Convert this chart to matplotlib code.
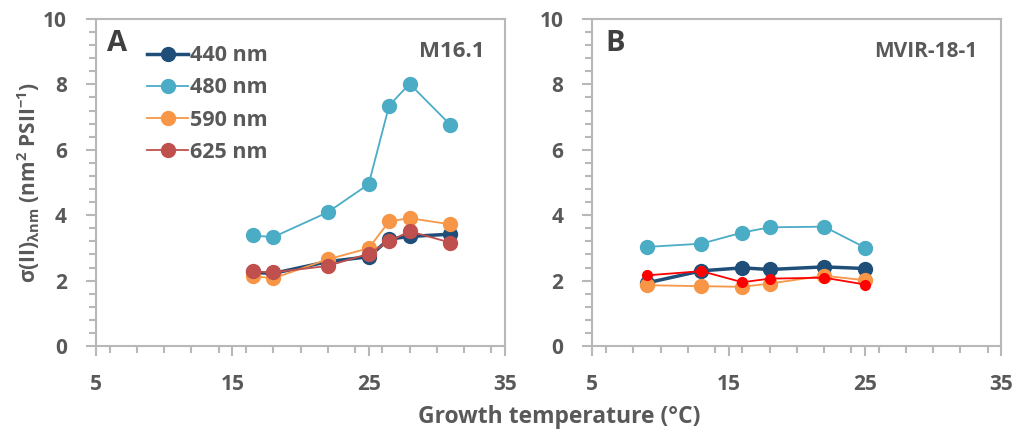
import matplotlib
matplotlib.use('Agg')
import matplotlib.pyplot as plt
from matplotlib.ticker import FixedLocator, MultipleLocator

plt.rcParams['font.family'] = ['Open Sans', 'DejaVu Sans']
plt.rcParams['font.weight'] = 'bold'
plt.rcParams['mathtext.fontset'] = 'custom'
plt.rcParams['mathtext.rm'] = 'Open Sans:bold'
plt.rcParams['mathtext.it'] = 'Open Sans:bold'
plt.rcParams['mathtext.bf'] = 'Open Sans:bold'
plt.rcParams['mathtext.sf'] = 'Open Sans:bold'
plt.rcParams['mathtext.fallback'] = 'stixsans'

# Panel A (M16.1)
temp_a = [16.5, 18, 22, 25, 26.5, 28, 31]
a_440 = [2.25, 2.22, 2.58, 2.73, 3.27, 3.35, 3.42]
a_480 = [3.38, 3.33, 4.09, 4.95, 7.35, 8.02, 6.76]
a_590 = [2.14, 2.07, 2.65, 2.99, 3.81, 3.91, 3.72]
a_625 = [2.28, 2.25, 2.45, 2.82, 3.20, 3.51, 3.16]

# Panel B (MVIR-18-1)
temp_b = [9, 13, 16, 18, 22, 25]
b_440 = [1.93, 2.30, 2.39, 2.34, 2.42, 2.37]
b_480 = [3.03, 3.13, 3.47, 3.63, 3.65, 3.01]
b_590 = [1.86, 1.83, 1.81, 1.91, 2.15, 2.01]
b_625 = [2.16, 2.29, 1.95, 2.06, 2.09, 1.88]

labels = ['440 nm', '480 nm', '590 nm', '625 nm']
x_ticks = [5, 15, 25, 35]

TXT = '#595959'
SPINE = '#b8b8b8'

fig = plt.figure(figsize=(10.19, 4.37), dpi=100)
ax_a = fig.add_axes([0.0942, 0.2082, 0.4014, 0.7483])
ax_b = fig.add_axes([0.5813, 0.2082, 0.4014, 0.7483])


def style_axes(ax):
    ax.set_xlim(5, 35)
    ax.set_ylim(0, 10)
    ax.xaxis.set_major_locator(FixedLocator(x_ticks))
    ax.xaxis.set_minor_locator(MultipleLocator(2))
    ax.yaxis.set_major_locator(MultipleLocator(2))
    ax.yaxis.set_minor_locator(MultipleLocator(0.4))
    for sp in ax.spines.values():
        sp.set_color(SPINE)
        sp.set_linewidth(1.5)
    ax.tick_params(which='both', direction='out', color=SPINE, width=1.5,
                   labelsize=15, labelcolor=TXT)
    ax.tick_params(which='major', length=7)
    ax.tick_params(which='minor', length=5)
    ax.tick_params(axis='x', pad=13)
    ax.tick_params(axis='y', pad=14)
    for lb in ax.get_xticklabels() + ax.get_yticklabels():
        lb.set_fontweight('bold')


# panel A
ax_a.plot(temp_a, a_440, '-o', color='#1f4e79', lw=2.5, ms=10, label=labels[0])
ax_a.plot(temp_a, a_480, '-o', color='#4bacc6', lw=1.3, ms=10, label=labels[1])
ax_a.plot(temp_a, a_590, '-o', color='#f79646', lw=1.3, ms=10, label=labels[2])
ax_a.plot(temp_a, a_625, '-o', color='#c0504d', lw=1.3, ms=10, label=labels[3])
style_axes(ax_a)
ax_a.text(0.027, 0.925, 'A', transform=ax_a.transAxes, fontsize=21,
          fontweight='bold', color='#404040', va='center', ha='left')
ax_a.text(0.951, 0.9, 'M16.1', transform=ax_a.transAxes, fontsize=16,
          fontweight='bold', color=TXT, va='center', ha='right')
leg = ax_a.legend(loc='upper left', bbox_to_anchor=(0.125, 0.92), frameon=False,
                  fontsize=15.5, handlelength=1.9, handletextpad=0.08,
                  labelspacing=0.52, borderaxespad=0, borderpad=0)
for t in leg.get_texts():
    t.set_color(TXT)
    t.set_fontweight('bold')

# panel B
ax_b.plot(temp_b, b_440, '-o', color='#1f4e79', lw=2.5, ms=10)
ax_b.plot(temp_b, b_480, '-o', color='#4bacc6', lw=1.3, ms=10)
ax_b.plot(temp_b, b_590, '-o', color='#f79646', lw=1.3, ms=10)
ax_b.plot(temp_b, b_625, '-o', color='#ff0000', lw=1.3, ms=7)
style_axes(ax_b)
ax_b.text(0.032, 0.925, 'B', transform=ax_b.transAxes, fontsize=21,
          fontweight='bold', color='#404040', va='center', ha='left')
ax_b.text(0.941, 0.9, 'MVIR-18-1', transform=ax_b.transAxes, fontsize=15,
          fontweight='bold', color=TXT, va='center', ha='right')

fig.text(0.028, 0.582, r'$\sigma$(II)$_{\lambda\mathrm{nm}}$ (nm$^{2}$ PSII$^{-1}$)',
         rotation=90, fontsize=15, fontweight='bold', color=TXT,
         ha='center', va='center')
fig.text(0.549, 0.045, 'Growth temperature (°C)', fontsize=16.5,
         fontweight='bold', color=TXT, ha='center', va='center')

fig.savefig('out.png', dpi=100)
